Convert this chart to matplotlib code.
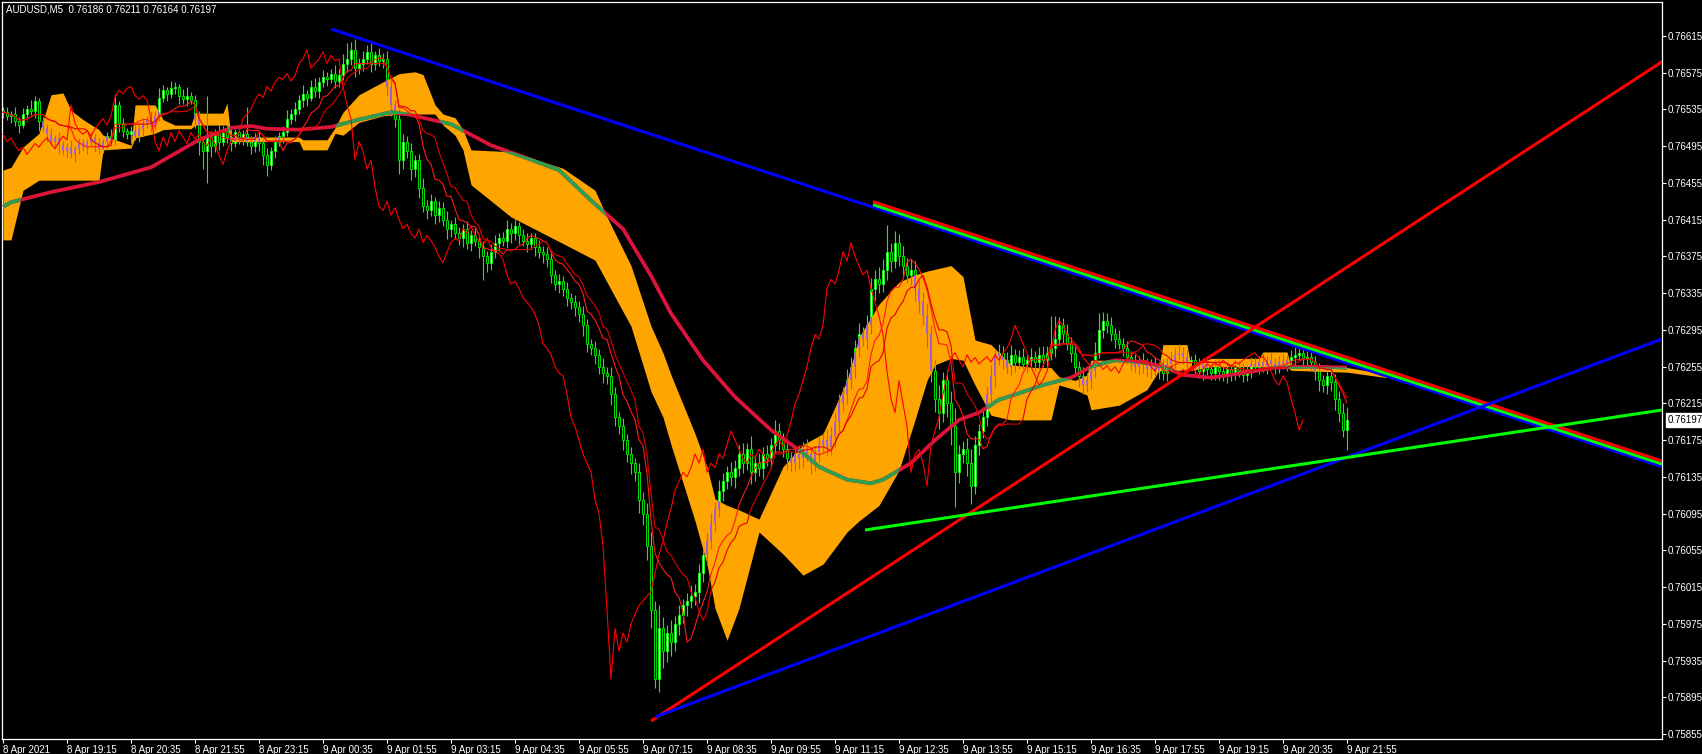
import numpy as np
import pandas as pd
import matplotlib
matplotlib.use("Agg")
import matplotlib.pyplot as plt
from matplotlib.path import Path

# ---------------- data (prices in 1e-5 units above 0.76000) ----------------
first_open_pts = 534
close_pts = [
    532, 528, 530, 522, 518, 530, 536, 533, 544, 522,
    515, 508, 500, 504, 496, 490, 494, 486, 492, 498,
    494, 500, 504, 498, 492, 500, 506, 502, 540, 520,
    512, 508, 512, 506, 514, 520, 525, 518, 528, 548,
    556, 552, 558, 560, 550, 546, 550, 545, 525, 500,
    490, 505, 495, 510, 500, 512, 505, 498, 510, 503,
    508, 500, 495, 505, 498, 485, 475, 490, 500, 506,
    510, 525, 530, 535, 545, 552, 548, 560, 555, 565,
    570, 568, 574, 566, 572, 585, 590, 600, 580, 585,
    590, 598, 585, 594, 588, 590, 560, 540, 525, 480,
    500, 490, 470, 480, 450, 430, 425, 435, 420, 428,
    415, 405, 410, 400, 395, 405, 390, 398, 392, 385,
    375, 368, 380, 390, 395, 392, 405, 400, 408, 398,
    392, 388, 395, 385, 380, 378, 372, 355, 345, 348,
    340, 330, 325, 320, 312, 300, 280, 275, 268, 255,
    248, 245, 225, 200, 190, 175, 160, 150, 140, 110,
    95, 60, -10, -85, -30, -55, -35, -45, -25, -15,
    -5, 0, 5, 10, 30, 50, 65, 85, 100, 120,
    130, 140, 135, 145, 160, 150, 165, 140, 150, 145,
    160, 155, 170, 185, 175, 165, 155, 150, 160, 155,
    165, 160, 150, 162, 170, 175, 168, 180, 195, 215,
    225, 240, 255, 275, 290, 285, 300, 340, 350, 345,
    360, 380, 370, 390, 375, 365, 355, 360, 340, 325,
    310, 290, 250, 220, 205, 240, 215, 190, 140, 160,
    165, 150, 125, 170, 185, 200, 225, 245, 265, 270,
    262, 255, 268, 260, 265, 258, 262, 266, 260, 268,
    262, 270, 275, 285, 300, 290, 280, 270, 255, 245,
    235, 240, 250, 270, 295, 305, 300, 290, 285, 280,
    275, 265, 260, 255, 262, 258, 252, 256, 250, 255,
    248, 258, 262, 268, 270, 265, 260, 262, 255, 250,
    258, 252, 248, 255, 250, 245, 252, 248, 255, 250,
    246, 252, 258, 255, 260, 256, 262, 258, 255, 260,
    258, 262, 265, 268, 270, 264, 266, 260, 250, 240,
    235, 245, 238, 220, 205, 186, 197,
]
upper_wick_pts = [
    4, 6, 3, 8, 5, 7, 4, 9, 6, 3, 5, 4, 7, 3, 6, 5, 4, 8, 3, 6,
    5, 3, 7, 4, 6, 3, 5, 8, 12, 4, 6, 3, 5, 7, 4, 6, 3, 8, 5, 10,
    6, 4, 8, 5, 3, 7, 9, 4, 6, 8, 5, 45, 7, 4, 8, 5, 6, 9, 4, 7,
    5, 30, 6, 4, 7, 5, 8, 4, 6, 5, 7, 9, 5, 8, 6, 10, 4, 7, 9, 5,
    8, 6, 5, 9, 7, 10, 17, 8, 12, 6, 9, 7, 11, 5, 8, 6, 9, 7, 5, 10,
    8, 6, 9, 5, 7, 10, 6, 8, 5, 7, 6, 9, 5, 8, 7, 5, 9, 6, 8, 5,
    7, 6, 9, 8, 5, 7, 10, 6, 8, 5, 7, 9, 6, 5, 8, 6, 7, 9, 5, 8,
    6, 7, 5, 8, 6, 9, 7, 5, 8, 6, 9, 7, 10, 8, 6, 9, 7, 8, 6, 10,
    8, 12, 15, 10, 25, 12, 9, 14, 8, 11, 7, 9, 12, 8, 10, 7, 9, 11, 8, 12,
    9, 7, 11, 8, 10, 12, 7, 14, 9, 11, 8, 10, 7, 12, 9, 8, 11, 7, 10, 9,
    8, 11, 9, 7, 10, 8, 12, 9, 11, 10, 8, 12, 10, 9, 13, 8, 11, 12, 10, 14,
    12, 29, 10, 13, 9, 11, 8, 12, 10, 9, 11, 13, 10, 12, 15, 9, 11, 14, 20, 10,
    9, 12, 15, 10, 8, 11, 9, 12, 8, 10, 7, 9, 11, 6, 8, 10, 7, 9, 6, 8,
    10, 7, 35, 25, 9, 8, 11, 7, 9, 6, 10, 8, 7, 12, 18, 10, 8, 9, 7, 10,
    6, 8, 7, 9, 5, 8, 6, 7, 9, 5, 8, 6, 9, 7, 10, 6, 8, 5, 7, 9,
    6, 8, 5, 7, 9, 6, 8, 5, 7, 6, 9, 5, 8, 6, 7, 9, 5, 8, 6, 7,
    9, 6, 8, 10, 7, 9, 6, 8, 7, 9, 6, 8, 7, 9, 8, 10, 14,
]
lower_wick_pts = [
    6, 4, 8, 5, 9, 3, 6, 4, 7, 10, 5, 8, 4, 6, 9, 5, 7, 4, 8, 6,
    4, 7, 5, 9, 6, 4, 8, 5, 6, 10, 7, 5, 9, 4, 6, 8, 5, 7, 4, 6,
    5, 8, 4, 6, 9, 5, 7, 4, 10, 15, 20, 35, 12, 6, 9, 5, 7, 8, 4, 6,
    7, 5, 9, 6, 8, 10, 12, 6, 8, 5, 7, 4, 6, 8, 5, 7, 9, 4, 6, 8,
    5, 7, 4, 8, 6, 5, 9, 7, 10, 6, 8, 5, 9, 7, 6, 8, 10, 12, 9, 15,
    10, 8, 12, 9, 11, 7, 9, 6, 10, 8, 7, 11, 9, 6, 8, 10, 7, 9, 6, 12,
    26, 10, 8, 7, 9, 6, 8, 10, 7, 9, 6, 8, 5, 9, 7, 10, 8, 9, 7, 10,
    8, 9, 7, 10, 8, 12, 9, 7, 10, 8, 11, 9, 12, 10, 8, 11, 9, 12, 10, 14,
    12, 15, 20, 10, 14, 18, 12, 15, 10, 12, 9, 11, 8, 10, 12, 9, 11, 8, 10, 9,
    11, 8, 10, 12, 9, 11, 8, 13, 10, 9, 12, 8, 10, 9, 11, 8, 12, 10, 9, 11,
    10, 8, 12, 9, 11, 8, 10, 9, 12, 10, 8, 11, 9, 12, 10, 8, 11, 9, 12, 10,
    9, 11, 12, 8, 10, 13, 9, 11, 14, 12, 10, 15, 12, 14, 18, 10, 15, 20, 38, 12,
    10, 14, 20, 9, 11, 8, 10, 9, 12, 8, 10, 7, 9, 11, 8, 6, 9, 7, 10, 8,
    7, 9, 8, 10, 6, 9, 7, 10, 8, 12, 10, 8, 9, 7, 6, 9, 8, 7, 10, 6,
    8, 7, 9, 6, 8, 10, 7, 9, 6, 8, 7, 9, 6, 8, 5, 7, 9, 6, 8, 7,
    9, 6, 8, 7, 10, 6, 8, 9, 7, 6, 8, 7, 9, 6, 8, 7, 9, 6, 8, 7,
    6, 8, 7, 9, 6, 8, 7, 10, 9, 12, 8, 10, 9, 12, 10, 8, 22,
]

# Ichimoku cloud boundaries (bar index, upper, lower) in 1e-5 above 0.76
cloud_bar = [0, 2, 5, 9, 12, 15, 17, 20, 24, 25, 32, 33, 38, 40, 43, 47, 48, 55, 56, 57,
             74, 75, 81, 83, 85, 89, 95, 99, 103, 105, 108, 110, 113, 115, 117, 127,
             140, 148, 151, 157, 162, 165, 167, 173, 176, 178, 181, 184, 189, 195,
             200, 205, 211, 214, 219, 224, 228, 231, 233, 237, 240, 243, 247, 252,
             258, 262, 264, 268, 271, 272, 279, 286, 289, 290, 296, 297, 302, 314,
             315, 321, 322, 336, 346]
cloud_up = [469, 472, 494, 509, 551, 553, 534, 524, 513, 507, 496, 540, 540, 524, 518, 518, 531, 531, 542, 505,
            505, 502, 502, 515, 532, 551, 565, 574, 576, 573, 540, 530, 526, 513, 491, 489,
            471, 447, 418, 365, 299, 270, 246, 182, 146, 111, 104, 99, 89, 146,
            170, 182, 240, 287, 323, 347, 355, 359, 361, 365, 353, 284, 279, 257,
            254, 254, 244, 240, 246, 262, 262, 257, 255, 279, 279, 255, 264, 264,
            271, 271, 255, 254, 247]
cloud_lo = [393, 393, 447, 458, 458, 458, 458, 458, 458, 491, 493, 504, 509, 513, 514, 514, 518, 518, 518, 500,
            500, 491, 491, 509, 507, 521, 528, 530, 530, 530, 530, 518, 507, 491, 453, 418,
            389, 371, 347, 299, 228, 200, 170, 87, 40, -8, -43, -8, 75, 51,
            28, 40, 75, 87, 104, 142, 197, 240, 257, 264, 262, 235, 202, 197,
            197, 197, 235, 230, 224, 208, 213, 230, 251, 251, 251, 251, 255, 255,
            255, 255, 251, 249, 243]

# moving average (thick line), sampled (bar index, value)
ma_bar = [0, 2, 12, 24, 37, 49, 57, 62, 66, 74, 82, 89, 97, 102, 112, 122, 131, 139, 147, 155,
          162, 167, 175, 183, 192, 200, 204, 211, 217, 220, 227, 233, 239, 244, 249, 254,
          260, 267, 272, 278, 285, 290, 295, 302, 310, 318, 327, 336]
ma_pts = [429, 434, 445, 456, 472, 502, 515, 517, 514, 513, 516, 524, 532, 529, 519, 496, 482, 469, 436, 405,
          354, 313, 262, 222, 186, 161, 146, 132, 128, 132, 150, 175, 197, 205, 219, 226,
          235, 243, 255, 262, 260, 255, 246, 243, 248, 254, 255, 254]

# trend lines: (bar, price) anchor pairs
trend_lines = {
    "blue_top":   ((82, 0.766226), (400, 0.761672), "#0000FF"),
    "green_band": ((217.5, 0.764314), (400, 0.761701), "#00FF00"),
    "red_band":   ((217.5, 0.764347), (400, 0.761734), "#FF0000"),
    "red_up":     ((162, 0.758692), (400, 0.765451), "#FF0000"),
    "blue_up":    ((163, 0.758735), (400, 0.762610), "#0000FF"),
    "green_up":   ((215.5, 0.760771), (400, 0.761981), "#00FF00"),
}

time_labels = ["8 Apr 2021", "8 Apr 19:15", "8 Apr 20:35", "8 Apr 21:55", "8 Apr 23:15",
               "9 Apr 00:35", "9 Apr 01:55", "9 Apr 03:15", "9 Apr 04:35", "9 Apr 05:55",
               "9 Apr 07:15", "9 Apr 08:35", "9 Apr 09:55", "9 Apr 11:15", "9 Apr 12:35",
               "9 Apr 13:55", "9 Apr 15:15", "9 Apr 16:35", "9 Apr 17:55", "9 Apr 19:15",
               "9 Apr 20:35", "9 Apr 21:55"]
bars_per_label = 16
price_ticks = [0.75855 + 0.0004 * k for k in range(20)]
title = "AUDUSD,M5  0.76186 0.76211 0.76164 0.76197"
chikou_shift = 11

# ---------------- derived series ----------------
base = 0.76
close = base + np.array(close_pts) / 1e5
opn = np.concatenate([[base + first_open_pts / 1e5], close[:-1]])
high = np.maximum(opn, close) + np.array(upper_wick_pts) / 1e5
low = np.minimum(opn, close) - np.array(lower_wick_pts) / 1e5
n = len(close)
idx = np.arange(n)

hs, ls = pd.Series(high), pd.Series(low)
tenkan = (hs.rolling(9, min_periods=1).max() + ls.rolling(9, min_periods=1).min()) / 2
mid13 = (hs.rolling(13, min_periods=1).max() + ls.rolling(13, min_periods=1).min()) / 2

cb = np.array(cloud_bar, float)
cu = base + np.array(cloud_up) / 1e5
cl = base + np.array(cloud_lo) / 1e5
mb = np.array(ma_bar, float)
mp = base + np.array(ma_pts) / 1e5

# ---------------- figure ----------------
W, H = 1702, 754
fig = plt.figure(figsize=(W / 100, H / 100), dpi=100, facecolor="black")
ax = fig.add_axes([2 / W, 15 / H, 1660 / W, 737 / H], facecolor="black")
XMAX = 414.75
ax.set_xlim(-0.25, XMAX)
ax.set_ylim(0.758496, 0.766520)

bull = close >= opn
body_lo = np.minimum(opn, close)
body_h = np.abs(close - opn)

# candles
ax.vlines(idx, low, high, color="#00FF00", lw=0.8, zorder=2)
ax.bar(idx[bull], body_h[bull], bottom=body_lo[bull], width=0.55, color="white",
       edgecolor="#00FF00", lw=0.6, zorder=2.1)
ax.bar(idx[~bull], body_h[~bull], bottom=body_lo[~bull], width=0.55, color="black",
       edgecolor="#00FF00", lw=0.6, zorder=2.1)

# cloud
poly = ax.fill_between(cb, cu, cl, color="#FFA500", lw=0, zorder=3)
cloud_path = Path.make_compound_path(*poly.get_paths())

# candles seen through the cloud
wk = ax.vlines(idx, low, high, color="#E8501E", lw=0.8, zorder=3.2)
wk.set_clip_path(cloud_path, ax.transData)
bb = ax.bar(idx, np.maximum(body_h, 1e-6), bottom=body_lo, width=0.4, color="#A060D0",
            lw=0, zorder=3.3)
for r in bb:
    r.set_clip_path(cloud_path, ax.transData)

# moving average, green where it crosses the cloud
ax.plot(mb, mp, color="#DC143C", lw=2.7, zorder=5, solid_capstyle="butt")
mg, = ax.plot(mb, mp, color="#2E9E4F", lw=2.7, zorder=5.1, solid_capstyle="butt")
mg.set_clip_path(cloud_path, ax.transData)

# thin red lines
ax.plot(idx[chikou_shift:] - chikou_shift, close[chikou_shift:], color="#FF0000", lw=0.8, zorder=6)
ax.plot(idx, tenkan, color="#FF1A1A", lw=0.8, zorder=6)
ax.plot(idx, mid13, color="#E00000", lw=0.8, zorder=6)

# trend lines
for name, ((b1, p1), (b2, p2), col) in trend_lines.items():
    slope = (p2 - p1) / (b2 - b1)
    xs = np.array([b1, XMAX])
    ax.plot(xs, p1 + slope * (xs - b1), color=col, lw=2.2, zorder=8, solid_capstyle="butt")

# axes styling
for s in ax.spines.values():
    s.set_color("white")
    s.set_linewidth(0.9)
ax.yaxis.tick_right()
ax.set_yticks(price_ticks)
ax.set_yticklabels([f"{p:.5f}" for p in price_ticks])
ax.set_xticks([k * bars_per_label for k in range(len(time_labels))])
ax.set_xticklabels(time_labels, ha="left")
ax.tick_params(axis="both", colors="white", length=3, width=0.8, labelsize=7, pad=1)
for t in ax.get_xticklabels() + ax.get_yticklabels():
    t.set_fontfamily("Liberation Sans")
    t.set_color("white")

fig.text(6 / W, 1 - 10 / H, title, color="white", fontsize=7, va="center", ha="left",
         family="Liberation Sans")
ax.annotate(f"{close[-1]:.5f}", xy=(1.0, close[-1]), xycoords=("axes fraction", "data"),
            xytext=(4, 0), textcoords="offset points", ha="left", va="center",
            fontsize=7, color="black", family="Liberation Sans",
            bbox=dict(boxstyle="square,pad=0.2", fc="white", ec="white"), zorder=10,
            annotation_clip=False)

fig.savefig("out.png", dpi=100, facecolor="black")
